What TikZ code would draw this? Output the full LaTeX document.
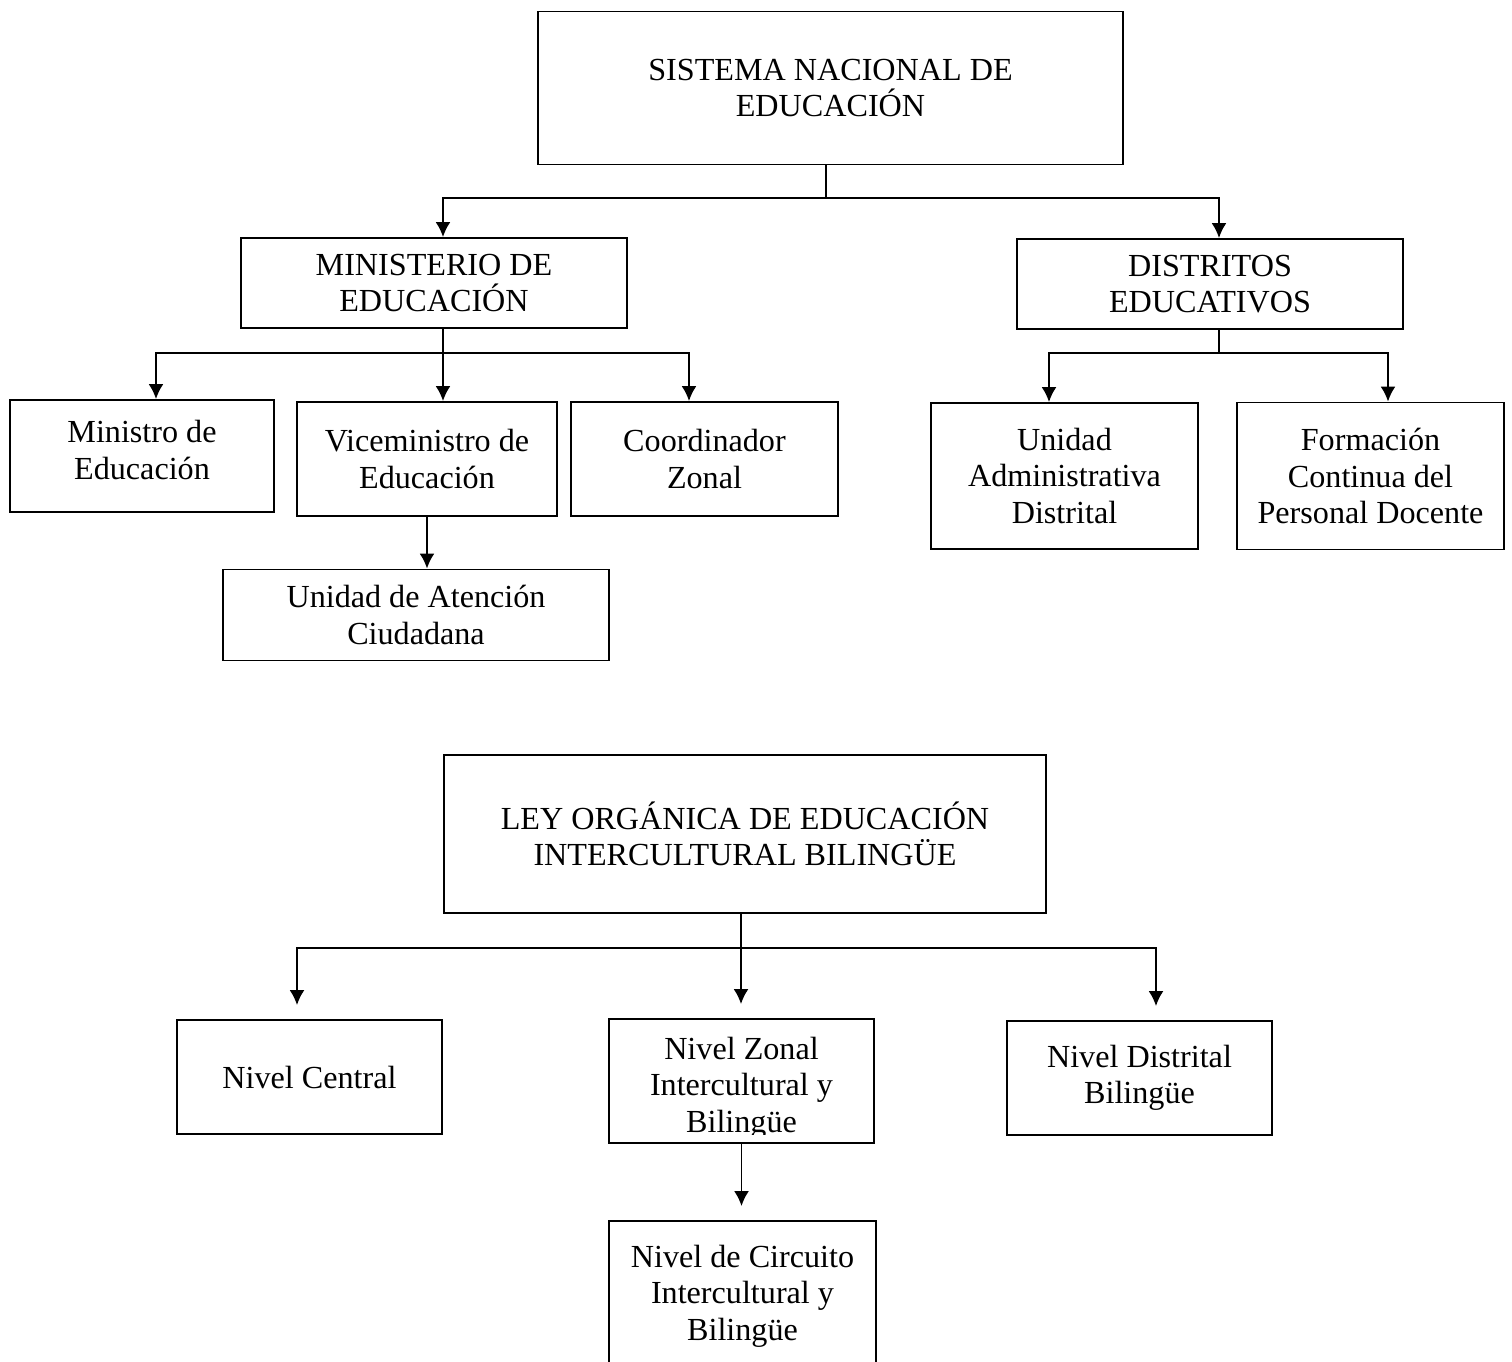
\documentclass[tikz,border=0pt]{standalone}
\usepackage{fontspec}
\setmainfont{Liberation Serif}
\usetikzlibrary{arrows.meta}

\begin{document}
\begin{tikzpicture}[x=0.02cm,y=-0.02cm,>={Latex[length=8.5pt,width=8.5pt]},line width=1.1pt,
	box/.style={draw,align=center,inner sep=0pt,font=\fontsize{18.3}{20.7}\selectfont},
	gap/.style={shorten >=0.28cm}]
\clip (0,0) rectangle (1512,1362);

% upper chart
	\node[box,minimum width=11.7cm,minimum height=3.06cm] (sne) at (830.5,88) {SISTEMA NACIONAL DE\\EDUCACIÓN};
	\node[box,minimum width=7.72cm,minimum height=1.8cm] (min) at (434,283) {MINISTERIO DE\\EDUCACIÓN};
	\node[box,minimum width=7.72cm,minimum height=1.8cm] (dis) at (1210,284) {DISTRITOS\\EDUCATIVOS};
	\node[box,minimum width=5.28cm,minimum height=2.24cm] (ministro) at (142,456) {};
	\node[box,draw=none] (ministrotxt) at (142,450) {Ministro de\\Educación};
	\node[box,minimum width=5.2cm,minimum height=2.28cm] (vice) at (427,459) {Viceministro de\\Educación};
	\node[box,minimum width=5.34cm,minimum height=2.28cm] (coord) at (704.5,459) {Coordinador\\Zonal};
	\node[box,minimum width=7.72cm,minimum height=1.82cm] (atencion) at (416,615) {Unidad de Atención\\Ciudadana};
	\node[box,minimum width=5.34cm,minimum height=2.92cm] (admin) at (1064.5,476) {Unidad\\Administrativa\\Distrital};
	\node[box,minimum width=5.34cm,minimum height=2.94cm] (formacion) at (1370.5,476) {Formación\\Continua del\\Personal Docente};

	\draw ([xshift=-0.09cm]sne.south) -- ++(0,33) coordinate (snebus);
	\draw[->] (snebus) -| ([xshift=0.18cm]min.north);
	\draw[->] (snebus) -| ([xshift=0.18cm]dis.north);

	\draw ([xshift=0.18cm]min.south) -- ++(0,24) coordinate (minbus);
	\draw[->] (minbus) -| ([xshift=0.28cm]ministro.north);
	\draw[->] (minbus) -- (minbus |- vice.north);
	\draw[->] (minbus) -| ([xshift=-0.31cm]coord.north);
	\draw[->] (vice.south) -- (vice.south |- atencion.north);

	\draw ([xshift=0.18cm]dis.south) -- ++(0,23) coordinate (disbus);
	\draw[->] (disbus) -| ([xshift=-0.31cm]admin.north);
	\draw[->] (disbus) -| ([xshift=0.35cm]formacion.north);

% lower chart
	\node[box,minimum width=12.04cm,minimum height=3.16cm] (ley) at (745,834) {LEY ORGÁNICA DE EDUCACIÓN\\INTERCULTURAL BILINGÜE};
	\node[box,minimum width=5.3cm,minimum height=2.28cm] (central) at (309.5,1077) {Nivel Central};
	\node[box,minimum width=5.3cm,minimum height=2.48cm] (zonal) at (741.5,1081) {};
	\begin{scope}
	\clip (611,1021) rectangle (872,1134);
	\node[box,draw=none] (zonaltxt) at (741.5,1088) {Nivel Zonal\\Intercultural y\\Bilingüe};
	\end{scope}
	\node[box,minimum width=5.3cm,minimum height=2.28cm] (distrital) at (1139.5,1078) {Nivel Distrital\\Bilingüe};
	\node[box,minimum width=5.34cm,minimum height=3.0cm] (circuito) at (742.5,1296) {Nivel de Circuito\\Intercultural y\\Bilingüe};

	\draw ([xshift=-0.08cm]ley.south) -- ++(0,34) coordinate (leybus);
	\draw[->,gap] (leybus) -| ([xshift=-0.25cm]central.north);
	\draw[->,gap] (leybus) -- (leybus |- zonal.north);
	\draw[->,gap] (leybus) -| ([xshift=0.33cm]distrital.north);
	\draw[->,gap] (zonal.south) -- (zonal.south |- circuito.north);

\end{tikzpicture}
\end{document}
